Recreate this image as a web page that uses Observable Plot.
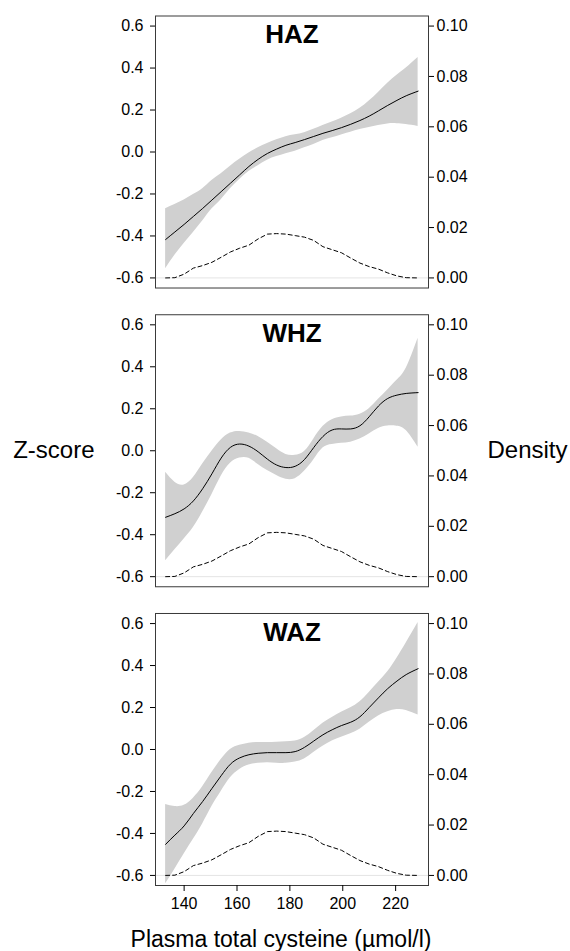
<!DOCTYPE html>
<html>
<head>
<meta charset="utf-8">
<script src="https://cdn.jsdelivr.net/npm/d3@7"></script>
<script src="https://cdn.jsdelivr.net/npm/@observablehq/plot@0.6"></script>
<style>
  html, body { margin: 0; padding: 0; background: #fff; }
  #chart { width: 570px; height: 951px; }
</style>
</head>
<body>
<div id="chart"></div>
<script>
// Plasma total cysteine (µmol/l) grid
const cysteine = [133, 136.5, 140, 143.5, 147, 150.5, 154, 157.5, 161, 164.5, 168, 171.5, 175, 178.5,
  182, 185.5, 189, 192.5, 196, 199.5, 203, 206.5, 210, 213.5, 217, 220.5, 224, 228.5];

const panels = ["HAZ", "WHZ", "WAZ"];

// HAZ
const hazFit   = [-0.417, -0.381, -0.345, -0.307, -0.269, -0.229, -0.189, -0.149, -0.109, -0.069, -0.035, -0.007, 0.014, 0.032,
  0.045, 0.059, 0.074, 0.089, 0.102, 0.116, 0.132, 0.150, 0.171, 0.196, 0.222, 0.246, 0.268, 0.290];
const hazUpper = [-0.270, -0.250, -0.229, -0.203, -0.175, -0.136, -0.104, -0.068, -0.035, -0.005, 0.020, 0.041, 0.058, 0.073,
  0.082, 0.092, 0.108, 0.126, 0.143, 0.161, 0.182, 0.208, 0.243, 0.284, 0.328, 0.366, 0.400, 0.450];
const hazLower = [-0.556, -0.492, -0.436, -0.383, -0.329, -0.272, -0.227, -0.175, -0.131, -0.093, -0.065, -0.039, -0.022, -0.008,
  0.003, 0.020, 0.036, 0.055, 0.068, 0.081, 0.094, 0.107, 0.117, 0.126, 0.134, 0.135, 0.131, 0.122];

// WHZ
const whzFit   = [-0.317, -0.300, -0.277, -0.239, -0.181, -0.110, -0.035, 0.016, 0.032, 0.022, -0.005, -0.040, -0.068, -0.080,
  -0.074, -0.042, 0.015, 0.068, 0.099, 0.104, 0.104, 0.119, 0.162, 0.213, 0.249, 0.265, 0.273, 0.277];
const whzUpper = [-0.103, -0.150, -0.163, -0.128, -0.063, -0.002, 0.051, 0.084, 0.092, 0.085, 0.068, 0.040, 0.009, -0.018,
  -0.022, -0.004, 0.055, 0.115, 0.148, 0.161, 0.165, 0.174, 0.200, 0.245, 0.290, 0.336, 0.393, 0.536];
const whzLower = [-0.524, -0.472, -0.420, -0.366, -0.292, -0.210, -0.122, -0.060, -0.035, -0.036, -0.066, -0.094, -0.118, -0.136,
  -0.133, -0.098, -0.044, 0.013, 0.030, 0.036, 0.041, 0.056, 0.080, 0.106, 0.118, 0.117, 0.096, 0.017];

// WAZ
const wazFit   = [-0.452, -0.408, -0.364, -0.305, -0.248, -0.186, -0.125, -0.070, -0.040, -0.025, -0.018, -0.015, -0.015, -0.015,
  -0.010, 0.010, 0.040, 0.070, 0.094, 0.114, 0.130, 0.156, 0.200, 0.246, 0.290, 0.326, 0.357, 0.385];
const wazUpper = [-0.262, -0.272, -0.266, -0.232, -0.178, -0.110, -0.048, 0.000, 0.020, 0.030, 0.033, 0.033, 0.035, 0.037,
  0.040, 0.057, 0.089, 0.125, 0.153, 0.178, 0.199, 0.228, 0.272, 0.320, 0.370, 0.435, 0.508, 0.605];
const wazLower = [-0.640, -0.570, -0.498, -0.428, -0.355, -0.272, -0.200, -0.135, -0.095, -0.074, -0.066, -0.063, -0.065, -0.066,
  -0.060, -0.045, -0.014, 0.015, 0.040, 0.058, 0.075, 0.097, 0.130, 0.160, 0.180, 0.190, 0.186, 0.164];

// Density of plasma total cysteine (right axis)
const density = [0.0000, 0.0001, 0.0015, 0.0039, 0.0049, 0.0062, 0.0082, 0.0103, 0.0118, 0.0130, 0.0155, 0.0174, 0.0176, 0.0174,
  0.0168, 0.0162, 0.0149, 0.0124, 0.0112, 0.0100, 0.0079, 0.0059, 0.0045, 0.0035, 0.0020, 0.0008, 0.0001, 0.0000];

const zTicks = [-0.6, -0.4, -0.2, 0.0, 0.2, 0.4, 0.6];
const densityTicks = [0.00, 0.02, 0.04, 0.06, 0.08, 0.10];
const xTicks = [140, 160, 180, 200, 220];

const yLabel = "Z-score";
const y2Label = "Density";
const xLabel = "Plasma total cysteine (µmol/l)";

// density mapped onto the z-score axis: 0 -> -0.6, 0.10 -> 0.6
const densToZ = d => -0.6 + d * 12;
const zToDens = z => (z + 0.6) / 12;

const series = {
  HAZ: {fit: hazFit, lo: hazLower, hi: hazUpper},
  WHZ: {fit: whzFit, lo: whzLower, hi: whzUpper},
  WAZ: {fit: wazFit, lo: wazLower, hi: wazUpper}
};
const rows = panels.flatMap(p => cysteine.map((x, i) => ({
  panel: p, x, fit: series[p].fit[i], lo: series[p].lo[i], hi: series[p].hi[i]
})));
const densRows = cysteine.map((x, i) => ({x, d: density[i]}));

const font = "'Liberation Sans', Arial, Helvetica, sans-serif";

const chart = Plot.plot({
  width: 570,
  height: 951,
  marginLeft: 155,
  marginRight: 142,
  marginTop: 15.5,
  marginBottom: 66,
  style: {fontFamily: font, background: "#fff", color: "#000", overflow: "visible"},
  x: {domain: [129.17, 232.43]},
  y: {domain: [-0.648, 0.648]},
  fy: {domain: panels, paddingInner: 0.0895, paddingOuter: 0, round: false, axis: null},
  marks: [
    Plot.areaY(rows, {x: "x", y1: "lo", y2: "hi", fy: "panel", fill: "#d0d0d0", curve: "natural"}),
    Plot.ruleY([-0.6], {stroke: "#e4e4e4", strokeWidth: 1}),
    Plot.line(densRows, {x: "x", y: d => densToZ(d.d), stroke: "#000", strokeWidth: 1, strokeDasharray: "4,3"}),
    Plot.line(rows, {x: "x", y: "fit", fy: "panel", stroke: "#000", strokeWidth: 1, curve: "natural"}),
    Plot.frame({stroke: "#3a3a3a", strokeWidth: 1}),
    Plot.axisY(zTicks, {anchor: "left", tickSize: 5, tickPadding: 7, fontSize: 16,
      tickFormat: z => z.toFixed(1), label: null}),
    Plot.axisY(densityTicks.map(densToZ), {anchor: "right", tickSize: 5, tickPadding: 3, fontSize: 16,
      tickFormat: z => zToDens(z).toFixed(2), label: null}),
    Plot.axisX(xTicks, {anchor: "bottom", tickSize: 6, tickPadding: 6, fontSize: 16,
      tickFormat: d => String(d), label: null}),
    Plot.text(panels, {fy: d => d, text: d => d, frameAnchor: "top", lineAnchor: "top", dy: 9,
      fontWeight: "bold", fontSize: 26}),
    Plot.text([yLabel], {fy: ["WHZ"], text: d => d, frameAnchor: "left", textAnchor: "end", dx: -61,
      fontSize: 24}),
    Plot.text([y2Label], {fy: ["WHZ"], text: d => d, frameAnchor: "right", textAnchor: "start", dx: 59,
      fontSize: 24}),
    Plot.text([xLabel], {fy: ["WAZ"], text: d => d, frameAnchor: "bottom", lineAnchor: "bottom", dx: -11, dy: 61,
      fontSize: 23})
  ]
});
document.getElementById("chart").appendChild(chart);
</script>
</body>
</html>
